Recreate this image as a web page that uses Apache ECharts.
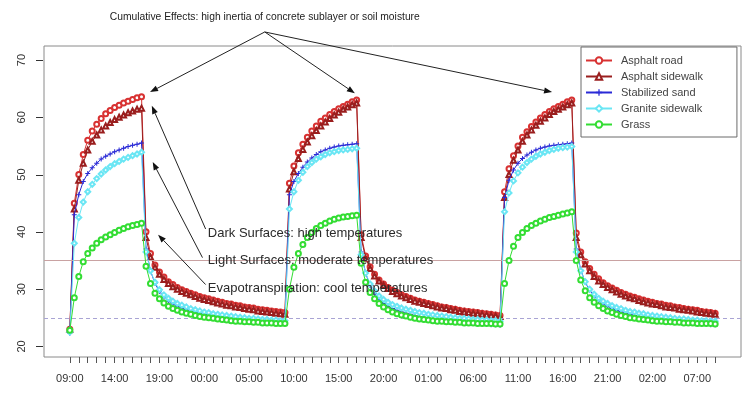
<!DOCTYPE html>
<html>
<head>
<meta charset="utf-8">
<script src="https://cdn.jsdelivr.net/npm/echarts@6/dist/echarts.min.js"></script>
<style>html,body{margin:0;padding:0;background:#fff;}#chart{width:743px;height:403px;}</style>
</head>
<body>
<div id="chart"></div>
<script>
// x positions are half-hour steps from 09:00 on day 1 (0 .. 144)
const xTickLabels = ['09:00','14:00','19:00','00:00','05:00','10:00','15:00','20:00','01:00','06:00','11:00','16:00','21:00','02:00','07:00'];
const yTickValues = [20, 30, 40, 50, 60, 70];
const refLineSolid = 35;
const refLineDashed = 25;
const seriesNames = ['Asphalt road', 'Asphalt sidewalk', 'Stabilized sand', 'Granite sidewalk', 'Grass'];

const asphaltRoad = [
  23.0, 45.0, 50.0, 53.5, 56.0, 57.6, 58.8, 59.8, 60.6, 61.2, 61.7, 62.1, 62.5, 62.8, 63.1, 63.4, 63.6,
  40.0, 36.2, 34.2, 33.0, 32.1, 31.3, 30.8, 30.3, 29.9, 29.6, 29.3, 29.0, 28.7, 28.5, 28.3, 28.1, 27.9, 27.7, 27.5, 27.4, 27.2, 27.1, 26.9, 26.8, 26.7, 26.5, 26.4, 26.3, 26.2, 26.1, 26.0, 25.9,
  48.5, 51.5, 53.8, 55.3, 56.5, 57.6, 58.5, 59.3, 59.9, 60.5, 61.0, 61.5, 61.9, 62.3, 62.7, 63.0,
  39.5, 35.8, 33.9, 32.6, 31.6, 30.9, 30.3, 29.8, 29.4, 29.0, 28.7, 28.4, 28.1, 27.9, 27.7, 27.5, 27.3, 27.1, 26.9, 26.8, 26.6, 26.5, 26.3, 26.2, 26.1, 26.0, 25.9, 25.8, 25.7, 25.6, 25.5, 25.4,
  47.0, 51.0, 53.3, 55.0, 56.5, 57.5, 58.4, 59.2, 59.9, 60.5, 61.0, 61.5, 61.9, 62.3, 62.7, 63.0,
  39.8, 36.5, 34.8, 33.6, 32.6, 31.8, 31.1, 30.6, 30.2, 29.8, 29.4, 29.1, 28.8, 28.6, 28.3, 28.1, 27.9, 27.7, 27.5, 27.4, 27.2, 27.1, 26.9, 26.8, 26.6, 26.5, 26.4, 26.3, 26.1, 26.0, 25.9, 25.8
];
const asphaltSidewalk = [
  23.0, 44.0, 49.0, 52.0, 54.3, 55.8, 56.9, 57.8, 58.5, 59.1, 59.6, 60.0, 60.4, 60.8, 61.1, 61.4, 61.6,
  39.0, 35.6, 33.8, 32.6, 31.7, 31.0, 30.4, 30.0, 29.6, 29.3, 29.0, 28.7, 28.4, 28.2, 28.0, 27.8, 27.6, 27.4, 27.2, 27.1, 26.9, 26.8, 26.6, 26.5, 26.4, 26.2, 26.1, 26.0, 25.9, 25.8, 25.7, 25.6,
  47.5, 50.5, 52.8, 54.4, 55.7, 56.8, 57.7, 58.5, 59.2, 59.8, 60.4, 60.9, 61.4, 61.8, 62.2, 62.5,
  39.0, 35.4, 33.6, 32.3, 31.4, 30.7, 30.1, 29.6, 29.2, 28.8, 28.5, 28.2, 27.9, 27.7, 27.5, 27.3, 27.1, 26.9, 26.7, 26.6, 26.4, 26.3, 26.1, 26.0, 25.9, 25.8, 25.7, 25.6, 25.5, 25.4, 25.3, 25.2,
  46.0, 50.0, 52.5, 54.3, 55.8, 56.9, 57.8, 58.6, 59.3, 59.9, 60.5, 61.0, 61.4, 61.8, 62.2, 62.5,
  39.0, 36.0, 34.4, 33.2, 32.2, 31.4, 30.8, 30.3, 29.9, 29.5, 29.1, 28.8, 28.5, 28.3, 28.0, 27.8, 27.6, 27.4, 27.3, 27.1, 26.9, 26.8, 26.7, 26.5, 26.4, 26.3, 26.2, 26.0, 25.9, 25.8, 25.7, 25.6
];
const stabilizedSand = [
  22.3, 43.0, 46.5, 48.8, 50.2, 51.2, 52.0, 52.7, 53.2, 53.6, 54.0, 54.3, 54.6, 54.9, 55.1, 55.3, 55.5,
  37.0, 33.2, 31.0, 29.6, 28.6, 27.9, 27.4, 27.0, 26.7, 26.4, 26.2, 26.0, 25.8, 25.6, 25.5, 25.3, 25.2, 25.1, 25.0, 24.9, 24.8, 24.7, 24.6, 24.5, 24.5, 24.4, 24.3, 24.3, 24.2, 24.2, 24.1, 24.1,
  46.5, 48.8, 50.2, 51.3, 52.2, 52.9, 53.5, 54.0, 54.3, 54.6, 54.8, 55.0, 55.1, 55.2, 55.3, 55.4,
  36.5, 32.8, 30.6, 29.2, 28.2, 27.5, 27.0, 26.6, 26.3, 26.0, 25.8, 25.6, 25.4, 25.2, 25.1, 24.9, 24.8, 24.7, 24.6, 24.5, 24.4, 24.3, 24.2, 24.2, 24.1, 24.0, 24.0, 23.9, 23.9, 23.8, 23.8, 23.7,
  46.0, 49.0, 50.8, 52.0, 52.8, 53.4, 53.9, 54.3, 54.6, 54.8, 55.0, 55.1, 55.2, 55.3, 55.4, 55.5,
  37.0, 33.4, 31.2, 29.8, 28.8, 28.0, 27.4, 27.0, 26.6, 26.3, 26.0, 25.8, 25.6, 25.4, 25.2, 25.1, 24.9, 24.8, 24.7, 24.6, 24.5, 24.4, 24.3, 24.2, 24.2, 24.1, 24.0, 24.0, 23.9, 23.9, 23.8, 23.8
];
const graniteSidewalk = [
  22.5, 38.0, 42.5, 45.2, 47.0, 48.3, 49.3, 50.1, 50.8, 51.4, 51.9, 52.3, 52.7, 53.0, 53.3, 53.6, 53.9,
  36.5, 33.2, 31.2, 29.9, 29.0, 28.4, 27.9, 27.5, 27.2, 26.9, 26.6, 26.4, 26.2, 26.0, 25.9, 25.7, 25.6, 25.5, 25.4, 25.3, 25.2, 25.1, 25.0, 24.9, 24.9, 24.8, 24.7, 24.7, 24.6, 24.6, 24.5, 24.5,
  44.0, 47.0, 49.0, 50.4, 51.4, 52.1, 52.7, 53.1, 53.5, 53.8, 54.0, 54.2, 54.3, 54.4, 54.5, 54.6,
  36.0, 32.8, 30.9, 29.7, 28.8, 28.2, 27.7, 27.3, 27.0, 26.7, 26.5, 26.3, 26.1, 25.9, 25.8, 25.6, 25.5, 25.4, 25.3, 25.2, 25.1, 25.0, 24.9, 24.9, 24.8, 24.7, 24.7, 24.6, 24.6, 24.5, 24.5, 24.4,
  43.5, 46.8, 48.9, 50.3, 51.3, 52.1, 52.7, 53.2, 53.6, 53.9, 54.2, 54.4, 54.6, 54.7, 54.8, 54.9,
  36.5, 33.2, 31.3, 30.0, 29.1, 28.4, 27.9, 27.5, 27.1, 26.8, 26.6, 26.3, 26.1, 26.0, 25.8, 25.7, 25.5, 25.4, 25.3, 25.2, 25.1, 25.0, 24.9, 24.8, 24.8, 24.7, 24.6, 24.6, 24.5, 24.5, 24.4, 24.4
];
const grass = [
  22.8, 28.5, 32.2, 34.8, 36.2, 37.2, 38.0, 38.6, 39.1, 39.5, 39.9, 40.3, 40.6, 40.9, 41.1, 41.3, 41.5,
  34.0, 31.0, 29.3, 28.3, 27.6, 27.0, 26.6, 26.3, 26.0, 25.8, 25.6, 25.4, 25.2, 25.1, 25.0, 24.9, 24.8, 24.7, 24.6, 24.5, 24.4, 24.4, 24.3, 24.3, 24.2, 24.2, 24.1, 24.1, 24.1, 24.0, 24.0, 24.0,
  30.0, 33.8, 36.2, 37.8, 39.0, 39.9, 40.6, 41.1, 41.5, 41.9, 42.2, 42.4, 42.6, 42.7, 42.8, 42.9,
  34.5, 31.2, 29.4, 28.3, 27.5, 26.9, 26.4, 26.0, 25.7, 25.5, 25.3, 25.1, 24.9, 24.8, 24.7, 24.6, 24.5, 24.4, 24.4, 24.3, 24.3, 24.2, 24.2, 24.1, 24.1, 24.1, 24.0, 24.0, 24.0, 24.0, 23.9, 23.9,
  31.0, 35.0, 37.5, 39.0, 39.9, 40.6, 41.1, 41.5, 41.9, 42.2, 42.5, 42.7, 42.9, 43.1, 43.3, 43.5,
  35.0, 31.6, 29.7, 28.5, 27.7, 27.1, 26.6, 26.2, 25.9, 25.6, 25.4, 25.2, 25.0, 24.9, 24.8, 24.7, 24.6, 24.5, 24.4, 24.4, 24.3, 24.3, 24.2, 24.2, 24.1, 24.1, 24.1, 24.0, 24.0, 24.0, 24.0, 23.9
];

// annotations in data coordinates (x in half-hour steps, y in °C)
const topNote = {text: 'Cumulative Effects: high inertia of concrete sublayer or soil moisture', at: [43.5, 77.5]};
const topArrowFrom = [43.5, 74.9];
const topArrowTo = [[17.9, 64.4], [63.6, 64.2], [107.6, 64.4]];
const sideNotes = [
  {text: 'Dark Surfaces: high temperatures', at: [30.8, 39.8], from: [30.3, 40.5], to: [18.3, 62.0]},
  {text: 'Light Surfaces: moderate temperatures', at: [30.8, 35.0], from: [29.6, 35.5], to: [18.5, 52.2]},
  {text: 'Evapotranspiration: cool temperatures', at: [30.8, 30.1], from: [30.3, 30.8], to: [19.7, 39.5]}
];

const colors = ['#d83232', '#9a1e1e', '#2a2ad6', '#6ae6f4', '#33dd33'];
const symbols = ['emptyCircle', 'emptyTriangle',
  'path://M4,0 L6,0 L6,4 L10,4 L10,6 L6,6 L6,10 L4,10 L4,6 L0,6 L0,4 L4,4 Z',
  'emptyDiamond', 'emptyCircle'];
const allValues = [asphaltRoad, asphaltSidewalk, stabilizedSand, graniteSidewalk, grass];

const FONT = 'Liberation Sans, Arial, sans-serif';
const chart = echarts.init(document.getElementById('chart'), null, {renderer: 'canvas'});

const series = allValues.map((vals, i) => {
  const s = {
    name: seriesNames[i],
    type: 'line',
    data: vals.map((v, k) => [k, v]),
    symbol: symbols[i],
    symbolSize: 5,
    showAllSymbol: true,
    color: colors[i],
    lineStyle: {width: 1, color: colors[i]},
    itemStyle: {color: colors[i], borderWidth: 1.2},
    emphasis: {disabled: true},
    z: 2 + i
  };
  if (i === 0) {
    s.markLine = {
      silent: true, symbol: 'none', label: {show: false},
      data: [
        {yAxis: refLineSolid, lineStyle: {color: '#c9a2a2', type: 'solid', width: 1}},
        {yAxis: refLineDashed, lineStyle: {color: '#a9a4d4', type: [4, 3], width: 1}}
      ]
    };
  }
  return s;
});

const xTickPositions = [];
for (let k = 0; k <= 144; k += 2) xTickPositions.push(k);
const xLabelPositions = xTickLabels.map((_, i) => i * 10);

chart.setOption({
  animation: false,
  backgroundColor: '#fff',
  grid: {left: 44, right: 2, top: 46, bottom: 46, show: true, borderColor: '#8a8a8a', borderWidth: 1, backgroundColor: 'transparent'},
  legend: {
    left: 581, top: 47, orient: 'vertical',
    data: seriesNames,
    backgroundColor: '#fff', borderColor: '#6a6a6a', borderWidth: 1, borderRadius: 0,
    padding: [7, 34, 6, 4], itemGap: 3, itemWidth: 26, itemHeight: 8,
    textStyle: {fontFamily: FONT, fontSize: 11, color: '#444', lineHeight: 13, padding: [0, 0, 0, 4]}
  },
  xAxis: {
    type: 'value', min: -5.76, max: 149.76,
    axisLine: {show: false, onZero: false},
    splitLine: {show: false},
    axisTick: {show: true, inside: false, length: 6, lineStyle: {color: '#555', width: 1}, customValues: xTickPositions},
    axisLabel: {
      customValues: xLabelPositions, margin: 16,
      fontFamily: FONT, fontSize: 11, color: '#333',
      formatter: v => xTickLabels[Math.round(v / 10)] || ''
    }
  },
  yAxis: {
    type: 'value', min: 18.15, max: 72.45,
    position: 'left',
    axisLine: {show: false, onZero: false},
    splitLine: {show: false},
    axisTick: {show: false},
    axisLabel: {customValues: yTickValues, rotate: 90, margin: 17, fontFamily: FONT, fontSize: 11, color: '#333'}
  },
  series: series
});

function px(p) { return chart.convertToPixel({gridIndex: 0}, p); }
function arrow(fromD, toD) {
  const a = px(fromD), b = px(toD);
  const dx = b[0] - a[0], dy = b[1] - a[1];
  const len = Math.sqrt(dx * dx + dy * dy);
  const ux = dx / len, uy = dy / len;
  const hl = 8, hw = 3;
  const bx = b[0] - ux * hl, by = b[1] - uy * hl;
  return [
    {type: 'line', silent: true, z: 100, shape: {x1: a[0], y1: a[1], x2: bx, y2: by}, style: {stroke: '#222', lineWidth: 1}},
    {type: 'polygon', silent: true, z: 100, shape: {points: [[b[0], b[1]], [bx - uy * hw, by + ux * hw], [bx + uy * hw, by - ux * hw]]}, style: {fill: '#111'}}
  ];
}
const graphics = [];
// y-axis tick marks at the tick values, placed through the axis scale
const gridLeft = px([-5.76, 20])[0];
yTickValues.forEach(v => {
  const y = Math.round(px([0, v])[1]) + 0.5;
  graphics.push({type: 'line', silent: true, z: 100, shape: {x1: gridLeft - 8, y1: y, x2: gridLeft - 1, y2: y}, style: {stroke: '#333', lineWidth: 1}});
});
const tp = px(topNote.at);
graphics.push({type: 'text', silent: true, z: 100, x: tp[0], y: tp[1],
  style: {text: topNote.text, fill: '#222', font: '10.3px ' + FONT, align: 'center', verticalAlign: 'middle'}});
topArrowTo.forEach(t => graphics.push(...arrow(topArrowFrom, t)));
sideNotes.forEach(n => {
  const p = px(n.at);
  graphics.push({type: 'text', silent: true, z: 100, x: p[0], y: p[1],
    style: {text: n.text, fill: '#2a2a2a', font: '13px ' + FONT, align: 'left', verticalAlign: 'middle'}});
  graphics.push(...arrow(n.from, n.to));
});
chart.setOption({graphic: graphics});
</script>
</body>
</html>
